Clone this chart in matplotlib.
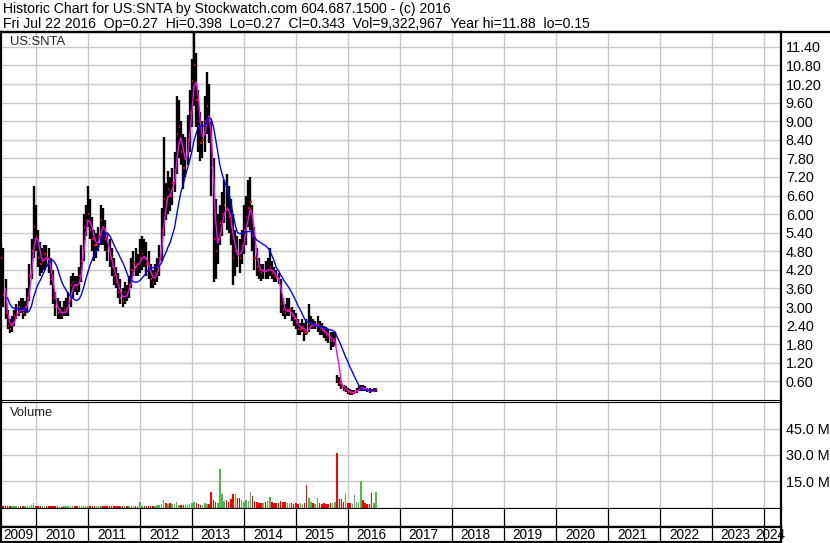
import numpy as np
import pandas as pd
import matplotlib
matplotlib.use("Agg")
import matplotlib.pyplot as plt
from matplotlib.lines import Line2D

plt.rcParams["font.family"] = ["Liberation Sans", "DejaVu Sans"]

W, H = 830, 543

# semi-monthly bars, May 2009 .. Jul 2016
dates = pd.date_range("2009-05-01", "2016-07-15", freq="SMS")

highs = [
    5.0, 4.9, 3.9, 2.9, 2.6, 2.7, 2.9, 3.1, 3.2, 3.3,
    3.3, 3.2, 3.6, 4.4, 5.2, 6.9, 6.3, 5.5, 5.1, 4.9,
    5.0, 5.0, 4.9, 4.6, 4.2, 3.5, 3.3, 3.2, 3.0, 3.2,
    3.3, 3.5, 4.0, 4.1, 4.0, 4.0, 4.3, 5.0, 6.0, 6.3,
    6.9, 6.5, 5.9, 5.5, 5.4, 5.6, 6.3, 6.2, 5.8, 5.4,
    5.2, 4.9, 4.6, 4.3, 4.1, 3.9, 3.6, 3.8, 3.7, 4.0,
    4.6, 4.8, 4.9, 4.7, 5.2, 5.3, 5.2, 5.1, 4.8, 4.4,
    4.2, 4.4, 4.6, 5.0, 6.2, 8.5, 7.0, 7.4, 7.2, 7.5,
    8.0, 9.8, 9.7, 9.0, 8.6, 8.5, 9.2, 10.0, 11.0, 11.88,
    11.2, 10.0, 9.3, 9.0, 9.8, 10.6, 10.2, 9.0, 7.8, 6.5,
    6.0, 6.3, 6.7, 7.1, 7.3, 6.9, 6.5, 6.0, 5.5, 5.3,
    5.2, 5.5, 6.3, 6.6, 7.1, 7.2, 6.3, 5.6, 4.9, 4.6,
    4.4, 4.4, 4.5, 4.6, 4.9, 4.5, 4.3, 4.2, 4.1, 3.9,
    3.3, 3.1, 3.3, 3.3, 3.0, 2.9, 2.8, 2.6, 2.5, 2.6,
    2.5, 2.6, 3.1, 2.7, 2.6, 2.55, 2.7, 2.55, 2.5, 2.4,
    2.35, 2.3, 2.2, 2.2, 2.2, 0.8, 0.75, 0.6, 0.5, 0.45,
    0.4, 0.35, 0.32, 0.33, 0.4, 0.45, 0.5, 0.48, 0.45, 0.4,
    0.38, 0.36, 0.38, 0.398,
]
lows = [
    3.5, 3.0, 2.6, 2.3, 2.15, 2.2, 2.4, 2.6, 2.7, 2.8,
    2.6, 2.7, 2.8, 3.2, 3.9, 4.6, 4.8, 4.3, 4.0, 4.1,
    4.2, 4.3, 4.1, 3.7, 3.1, 2.7, 2.6, 2.6, 2.6, 2.7,
    2.7, 2.7, 3.0, 3.3, 3.5, 3.4, 3.5, 3.8, 4.5, 5.3,
    5.6, 5.2, 4.8, 4.5, 4.6, 4.8, 5.0, 5.0, 4.8, 4.5,
    4.3, 4.0, 3.7, 3.6, 3.3, 3.1, 3.0, 3.1, 3.2, 3.3,
    3.6, 4.0, 4.0, 4.0, 4.1, 4.2, 4.3, 4.0, 3.9, 3.6,
    3.6, 3.7, 3.8, 4.0, 4.5, 5.3, 5.8, 6.0, 6.1, 6.3,
    6.7, 7.3, 7.8, 7.6, 6.8, 7.2, 7.6, 8.0, 8.8, 9.5,
    8.8, 8.0, 7.7, 7.8, 8.0, 8.6, 8.3, 6.6, 3.8, 3.9,
    4.4, 5.0, 5.3, 5.7, 5.5, 5.4, 5.0, 3.7, 4.0, 4.3,
    4.1, 4.4, 4.7, 5.0, 5.6, 5.5, 4.8, 4.2, 4.0, 3.9,
    3.85, 3.9, 3.9, 3.9, 4.0, 3.9, 3.8, 3.8, 3.75, 2.8,
    2.7, 2.6, 2.7, 2.7, 2.55, 2.4, 2.3, 2.1, 2.1, 2.2,
    1.9, 2.1, 2.2, 2.3, 2.3, 2.3, 2.2, 2.1, 2.1, 2.0,
    1.9, 1.85, 1.6, 1.7, 1.75, 0.55, 0.45, 0.35, 0.3, 0.25,
    0.18, 0.15, 0.16, 0.18, 0.22, 0.28, 0.3, 0.3, 0.28, 0.25,
    0.24, 0.25, 0.25, 0.27,
]
closes = [
    4.6, 3.4, 2.8, 2.4, 2.3, 2.5, 2.7, 2.8, 3.0, 2.9,
    2.8, 3.0, 3.3, 4.0, 4.8, 5.6, 5.3, 4.6, 4.4, 4.5,
    4.7, 4.6, 4.4, 3.9, 3.3, 3.0, 2.8, 2.9, 2.7, 2.9,
    2.9, 3.2, 3.7, 3.8, 3.7, 3.6, 4.0, 4.5, 5.6, 5.8,
    6.0, 5.5, 5.2, 5.0, 5.0, 5.3, 5.8, 5.6, 5.2, 4.8,
    4.6, 4.3, 4.0, 3.8, 3.5, 3.3, 3.2, 3.5, 3.4, 3.7,
    4.2, 4.4, 4.3, 4.4, 4.6, 4.7, 4.6, 4.4, 4.2, 3.9,
    3.8, 4.1, 4.3, 4.6, 5.5, 6.5, 6.4, 6.8, 6.6, 7.0,
    7.4, 8.6, 8.8, 8.0, 7.5, 7.8, 8.4, 9.3, 10.3, 10.8,
    9.7, 8.8, 8.3, 8.4, 9.0, 9.5, 9.0, 7.5, 5.2, 4.8,
    5.2, 5.7, 6.0, 6.3, 6.2, 5.9, 5.6, 4.6, 4.8, 4.7,
    4.6, 5.0, 5.5, 5.9, 6.2, 6.4, 5.3, 4.6, 4.3, 4.2,
    4.1, 4.2, 4.15, 4.2, 4.3, 4.1, 4.0, 3.95, 3.9, 3.1,
    2.9, 2.8, 2.9, 2.9, 2.7, 2.6, 2.5, 2.3, 2.3, 2.35,
    2.2, 2.15, 2.45, 2.5, 2.4, 2.4, 2.45, 2.3, 2.25, 2.2,
    2.1, 2.05, 1.9, 1.9, 2.0, 0.65, 0.55, 0.45, 0.33, 0.34,
    0.26, 0.22, 0.24, 0.26, 0.3, 0.36, 0.4, 0.38, 0.35, 0.32,
    0.3, 0.29, 0.3, 0.343,
]
volume_m = [
    3.2, 0.8, 0.9, 0.7, 0.6, 0.6, 0.5, 0.5, 0.6, 0.5,
    0.5, 0.5, 0.6, 0.8, 1.2, 2.4, 1.0, 0.7, 0.6, 0.5,
    0.5, 0.5, 0.5, 0.6, 0.6, 0.5, 0.5, 0.4, 0.4, 0.5,
    0.5, 0.5, 0.6, 0.5, 0.5, 0.5, 0.6, 0.8, 1.0, 0.9,
    1.0, 0.7, 0.6, 0.5, 0.5, 1.0, 0.7, 0.6, 0.5, 0.5,
    0.9, 0.6, 0.5, 0.6, 0.5, 0.5, 0.5, 0.5, 0.6, 0.6,
    0.7, 0.7, 0.6, 0.7, 3.2, 0.9, 0.8, 0.8, 0.7, 0.8,
    0.9, 1.0, 1.1, 1.5, 2.0, 4.0, 2.5, 1.8, 2.2, 1.6,
    1.8, 3.1, 1.5, 1.5, 1.2, 1.3, 1.4, 1.8, 2.5, 3.0,
    2.5, 1.6, 1.4, 1.5, 2.2, 2.0, 2.0, 8.7, 4.0, 3.0,
    2.5, 21.8, 7.5, 3.5, 4.0, 3.0, 5.0, 7.4, 7.8, 5.3,
    5.3, 4.0, 3.0, 4.0, 3.5, 8.7, 6.6, 3.5, 3.0, 2.5,
    2.5, 2.2, 3.0, 3.5, 6.0, 3.0, 2.5, 2.5, 2.2, 3.5,
    3.0, 2.8, 2.2, 2.5, 2.2, 2.0, 2.2, 2.0, 2.5, 2.0,
    2.4, 12.7, 5.3, 3.0, 2.5, 2.0, 5.3, 2.6, 2.0, 2.3,
    2.0, 2.0, 2.5, 2.2, 3.0, 31.0, 4.8, 4.8, 3.0, 8.0,
    2.5, 2.2, 2.0, 6.9, 3.0, 2.5, 15.0, 4.0, 2.5, 2.0,
    2.0, 8.3, 2.5, 8.9,
]

price_ticks = [0.6, 1.2, 1.8, 2.4, 3.0, 3.6, 4.2, 4.8, 5.4, 6.0, 6.6, 7.2,
               7.8, 8.4, 9.0, 9.6, 10.2, 10.8, 11.4]
vol_ticks = [15, 30, 45]
years = list(range(2009, 2025))

title1 = "Historic Chart for US:SNTA by Stockwatch.com 604.687.1500 - (c) 2016"
title2 = ("Fri Jul 22 2016  Op=0.27  Hi=0.398  Lo=0.27  Cl=0.343  "
          "Vol=9,322,967  Year hi=11.88  lo=0.15")

# ---------------------------------------------------------------------------
leap = np.where(dates.is_leap_year, 366.0, 365.0)
xs = np.asarray(dates.year + (dates.dayofyear - 1) / leap, dtype=float)
hi = np.array(highs)
lo = np.array(lows)
cl = pd.Series(closes)
vol = np.array(volume_m)
ma_fast = cl.rolling(3).mean()
ma_slow = cl.rolling(12, min_periods=4).mean()
up = np.r_[True, np.diff(cl.values) >= 0]

XMIN, XMAX = 2009.327, 2024.327
GRID = "#c8c8c8"
FS_TITLE = 10.1
FS = 10.4       # axis numbers
FS_SMALL = 9.4  # panel names and years


def rect(l, t, r, b):
    return [l / W, 1 - b / H, (r - l) / W, (b - t) / H]


fig = plt.figure(figsize=(W / 100, H / 100), dpi=100)
fig.patch.set_facecolor("white")

fig.text(3 / W, 1 - 9 / H, title1, fontsize=FS_TITLE, va="center", ha="left")
fig.text(3 / W, 1 - 24 / H, title2, fontsize=FS_TITLE, va="center", ha="left")
fig.add_artist(Line2D([0, 1], [1 - 32 / H] * 2, color="black", lw=1.6))

# price panel
ax = fig.add_axes(rect(1, 32, 781, 400))
ax.set_xlim(XMIN, XMAX)
ax.set_ylim(0, 11.88)
for y in years[1:]:
    ax.axvline(y, color=GRID, lw=1.0, zorder=0)
for t in price_ticks:
    ax.axhline(t, color=GRID, lw=1.0, zorder=0)
ax.vlines(xs, lo, hi, color="black", lw=1.7, zorder=2)
ax.hlines(cl.values, xs, xs + 0.025, color="red", lw=1.6, zorder=3)
ax.plot(xs, ma_fast, color="#ff00ff", lw=1.0, zorder=4)
ax.plot(xs, ma_slow, color="#0000ff", lw=1.0, zorder=5)
ax.yaxis.tick_right()
ax.set_yticks(price_ticks)
ax.set_yticklabels([f"{t:.2f}" for t in price_ticks])
ax.tick_params(axis="y", length=0, pad=3.5, labelsize=FS)
ax.set_xticks([])
for s in ["left", "right", "top"]:
    ax.spines[s].set_linewidth(1.6)
ax.spines["bottom"].set_linewidth(0.8)
ax.text(0.011, 0.972, "US:SNTA", transform=ax.transAxes, fontsize=FS_SMALL,
        va="center", ha="left", color="#202020")

# volume panel
axv = fig.add_axes(rect(1, 402, 781, 509))
axv.set_xlim(XMIN, XMAX)
axv.set_ylim(-1.0, 60.2)
for y in years[1:]:
    axv.axvline(y, color=GRID, lw=1.0, zorder=0)
for t in vol_ticks:
    axv.axhline(t, color=GRID, lw=1.0, zorder=0)
colors = np.where(up, "#4cbb4c", "#ff0000")
axv.bar(xs, vol + 1.0, bottom=-1.0, width=0.03, color=colors, lw=0, zorder=2)
axv.yaxis.tick_right()
axv.set_yticks(vol_ticks)
axv.set_yticklabels([f"{t:.1f} M" for t in vol_ticks])
axv.tick_params(axis="y", length=0, pad=3.5, labelsize=FS)
axv.set_xticks([])
for s in ["left", "right", "bottom"]:
    axv.spines[s].set_linewidth(1.6)
axv.spines["top"].set_linewidth(0.8)
axv.text(0.011, 0.9, "Volume", transform=axv.transAxes, fontsize=FS_SMALL,
         va="center", ha="left", color="#202020")

# empty band and year label band
band = fig.add_axes(rect(1, 509, 781, 527))
lab = fig.add_axes(rect(1, 527, 781, 542))
for a in (band, lab):
    a.set_xlim(XMIN, XMAX)
    a.set_ylim(0, 1)
    a.set_xticks([])
    a.set_yticks([])
    for y in years[1:]:
        a.axvline(y, color="black", lw=0.9)
    for s in a.spines.values():
        s.set_linewidth(1.6)
band.spines["top"].set_visible(False)
for y in years:
    xc = (XMIN + 2010) / 2 if y == 2009 else y + 0.46
    if y == 2024:
        xc = 2024.12
    lab.text(xc, 0.45, str(y), ha="center", va="center", fontsize=FS_SMALL + 0.4)

fig.savefig("out.png", dpi=100)
